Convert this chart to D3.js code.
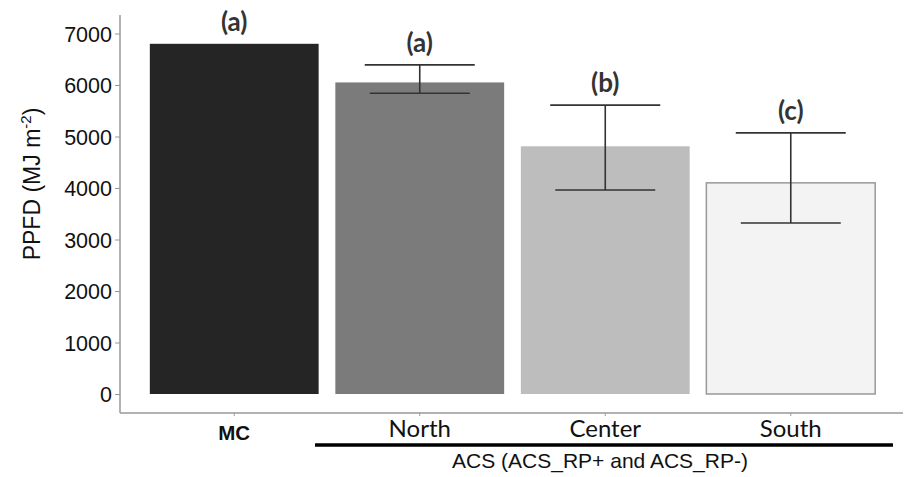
<!DOCTYPE html>
<style>
body { margin: 0; background: #fff; }
</style>
<svg width="907" height="477"></svg>
<script src="https://d3js.org/d3.v7.min.js"></script>
<script>

var groups = ["MC", "North", "Center", "South"];
var means = [6800, 6050, 4810, 4100];
var upper = [null, 6390, 5610, 5070];
var lower = [null, 5840, 3960, 3320];
var letters = ["(a)", "(a)", "(b)", "(c)"];
var yTicks = [0, 1000, 2000, 3000, 4000, 5000, 6000, 7000];
var fills = ["#252525", "#7b7b7b", "#bdbdbd", "#f3f3f3"];

var svg = d3.select("svg");

var x = d3.scaleBand()
    .domain(groups)
    .range([122, 903])
    .paddingInner(0.09)
    .paddingOuter(0.15);

var y = d3.scaleLinear()
    .domain([0, 7000])
    .range([394, 33.5]);

// bars
svg.append("g")
  .selectAll("rect")
  .data(groups)
  .enter().append("rect")
    .attr("x", function(d) { return x(d); })
    .attr("y", function(d, i) { return y(means[i]); })
    .attr("width", x.bandwidth())
    .attr("height", function(d, i) { return y(0) - y(means[i]); })
    .attr("fill", function(d, i) { return fills[i]; })
    .attr("stroke", function(d, i) { return i == 3 ? "#999" : "none"; })
    .attr("stroke-width", 1.5);

// error bars
var err = svg.append("g")
    .attr("stroke", "#333")
    .attr("stroke-width", 1.6)
  .selectAll("g")
  .data(groups.filter(function(d, i) { return upper[i] != null; }))
  .enter().append("g");

function cx(d) { return x(d) + x.bandwidth() / 2; }
function idx(d) { return groups.indexOf(d); }

err.append("line")
    .attr("x1", cx).attr("x2", cx)
    .attr("y1", function(d) { return y(upper[idx(d)]); })
    .attr("y2", function(d) { return y(lower[idx(d)]); });
err.append("line")
    .attr("x1", function(d) { return cx(d) - 55; })
    .attr("x2", function(d) { return cx(d) + 55; })
    .attr("y1", function(d) { return y(upper[idx(d)]); })
    .attr("y2", function(d) { return y(upper[idx(d)]); });
err.append("line")
    .attr("x1", function(d) { return cx(d) - 50; })
    .attr("x2", function(d) { return cx(d) + 50; })
    .attr("y1", function(d) { return y(lower[idx(d)]); })
    .attr("y2", function(d) { return y(lower[idx(d)]); });

// significance letters
svg.append("g")
    .attr("font-family", "Lato, sans-serif")
    .attr("font-weight", "bold")
    .attr("font-size", 26)
    .attr("fill", "#333")
    .attr("text-anchor", "middle")
  .selectAll("text")
  .data(groups)
  .enter().append("text")
    .attr("x", cx)
    .attr("y", function(d, i) { return y(upper[i] != null ? upper[i] : means[i]) - 13; })
    .text(function(d, i) { return letters[i]; });

// y axis
var yAxis = svg.append("g")
    .attr("transform", "translate(120,0)")
    .call(d3.axisLeft(y).tickValues(yTicks).tickSize(5).tickPadding(3).tickFormat(d3.format("d")));
yAxis.select(".domain").remove();
yAxis.append("line")
    .attr("y1", y(-369)).attr("y2", y(7359))
    .attr("stroke", "#999").attr("stroke-width", 1.5);
yAxis.selectAll(".tick line").attr("stroke", "#999");
yAxis.selectAll(".tick text")
    .attr("font-family", "'Liberation Sans', Arial, sans-serif")
    .attr("font-size", 21.5)
    .attr("dy", "0.36em")
    .attr("fill", "#111");

// x axis
var xAxis = svg.append("g")
    .attr("transform", "translate(0," + y(-369) + ")")
    .call(d3.axisBottom(x).tickSize(3).tickFormat(""));
xAxis.select(".domain").remove();
xAxis.append("line")
    .attr("x1", 120).attr("x2", 903)
    .attr("stroke", "#999").attr("stroke-width", 1.5);
xAxis.selectAll(".tick line").attr("stroke", "#999");

svg.append("text")
    .attr("x", cx("MC"))
    .attr("y", 440)
    .attr("text-anchor", "middle")
    .attr("font-family", "'Liberation Sans', Arial, sans-serif")
    .attr("font-weight", "bold")
    .attr("font-size", 20.5)
    .attr("fill", "#111")
    .text("MC");

svg.append("g")
    .attr("font-family", "Lato, sans-serif")
    .attr("font-size", 24)
    .attr("fill", "#111")
    .attr("text-anchor", "middle")
  .selectAll("text")
  .data(groups.slice(1))
  .enter().append("text")
    .attr("x", cx)
    .attr("y", 437)
    .text(function(d) { return d; });

svg.append("line")
    .attr("x1", 315).attr("x2", 893)
    .attr("y1", 445).attr("y2", 445)
    .attr("stroke", "#000").attr("stroke-width", 3.5);

svg.append("text")
    .attr("x", 600)
    .attr("y", 468)
    .attr("text-anchor", "middle")
    .attr("font-family", "'Liberation Sans', Arial, sans-serif")
    .attr("font-size", 21)
    .attr("fill", "#111")
    .text("ACS (ACS_RP+ and ACS_RP-)");

// y label
var yl = svg.append("text")
    .attr("transform", "translate(40,184) rotate(-90)")
    .attr("text-anchor", "middle")
    .attr("font-family", "'Liberation Sans', Arial, sans-serif")
    .attr("font-size", 23)
    .attr("fill", "#111");
yl.append("tspan").text("PPFD (MJ m");
yl.append("tspan").attr("dy", -9).attr("font-size", 15).text("-2");
yl.append("tspan").attr("dy", 9).text(")");

</script>
